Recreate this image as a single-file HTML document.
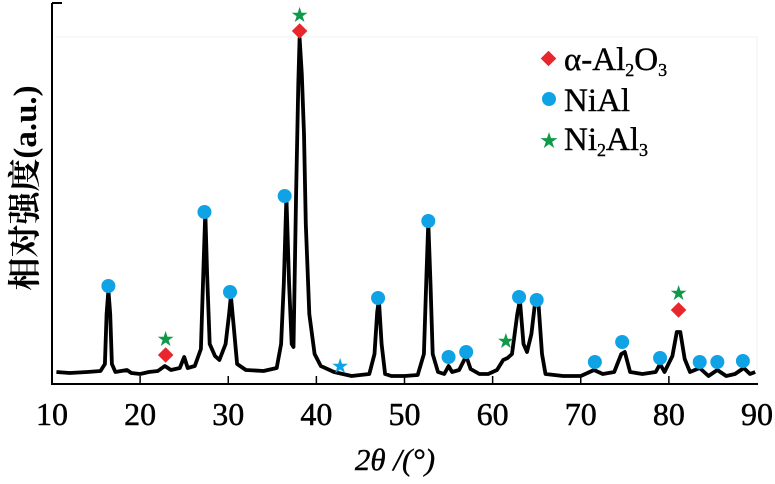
<!DOCTYPE html>
<html><head><meta charset="utf-8">
<style>
html,body{margin:0;padding:0;background:#fff;}
svg{display:block;font-family:"Liberation Serif","Noto Serif CJK SC",serif;}
</style></head>
<body>
<svg id="chart" width="775" height="484" viewBox="0 0 775 484" xmlns="http://www.w3.org/2000/svg">
  <g id="plot"></g>
  <line x1="55" y1="37" x2="757" y2="37" stroke="#f0f0f0" stroke-width="1"/>
  <line x1="757" y1="37" x2="757" y2="380" stroke="#f0f0f0" stroke-width="1"/>
  <line x1="52" y1="3" x2="52" y2="385" stroke="#000" stroke-width="2"/>
  <line x1="52" y1="3" x2="62" y2="3" stroke="#000" stroke-width="2"/>
  <line x1="51" y1="384" x2="758" y2="384" stroke="#000" stroke-width="2"/>
  <g id="xticks"></g>
  <text x="395" y="470" text-anchor="middle" font-size="31" font-style="italic" stroke="#000" stroke-width="0.4">2<tspan>θ</tspan> /(°)</text>
  <text transform="translate(36,188) rotate(-90)" text-anchor="middle" font-size="33" font-weight="bold" font-family="'Liberation Serif','Noto Serif CJK SC',serif">相对强度(a.u.)</text>
  <g>
    <rect x="543" y="53" width="11" height="11" fill="#e8262b" transform="rotate(45 548.5 58.5)"/>
    <text x="564" y="70" font-size="33" stroke="#000" stroke-width="0.4">α-Al<tspan font-size="18" dy="6">2</tspan><tspan dy="-6">O</tspan><tspan font-size="18" dy="6">3</tspan></text>
    <circle cx="549" cy="99" r="7" fill="#0fa3e6"/>
    <text x="564" y="111" font-size="33" stroke="#000" stroke-width="0.4">NiAl</text>
    <text x="549" y="147" font-size="18" fill="#0f9a4a" text-anchor="middle">★</text>
    <text x="564" y="150" font-size="33" stroke="#000" stroke-width="0.4">Ni<tspan font-size="18" dy="6">2</tspan><tspan dy="-6">Al</tspan><tspan font-size="18" dy="6">3</tspan></text>
  </g>
  <g id="markers"></g>
</svg>
<script>
const xTicks = [10,20,30,40,50,60,70,80,90];
const pattern2Theta = [10.5,12,14,15.5,16.0,16.2,16.4,16.6,16.8,17.2,18.5,19,20,21,22,22.8,23.5,24.5,25,25.4,26.2,26.9,27.2,27.4,27.6,27.9,28.5,29,29.7,30.1,30.3,30.6,31,32,34,35.5,36.0,36.3,36.6,36.9,37.2,37.4,37.7,37.95,38.1,38.35,38.6,38.8,39.2,39.8,40.5,42,43,44,45,46,46.6,46.9,47.1,47.4,47.8,48.5,50,51.5,52.2,52.5,52.7,52.95,53.2,53.8,54.5,55.0,55.4,56.2,57,57.5,58.5,59.5,60.5,61.2,61.7,62.2,62.8,63.1,63.5,63.9,64.4,64.8,65.2,65.6,66,68,70,71.5,72.5,73.8,74.6,75,75.6,77,78.5,79,79.5,80.4,80.9,81.3,81.8,82.4,83.5,84.5,85.5,86.5,87.5,88.5,89.2,89.8];
const patternIntensity = [12,11,12,13,20,70,94,70,20,12,14,11,10,12,13,18,14,16,27,16,18,35,120,172,110,40,28,24,40,70,88,60,20,14,13,16,40,100,187,100,40,37,190,300,346,310,250,160,70,30,18,12,10,8,9,10,30,72,84,40,10,8,8,9,30,110,162,100,30,12,10,18,12,14,28,15,10,10,14,24,26,30,70,84,40,32,50,80,80,30,10,8,8,14,10,12,30,32,12,10,12,20,12,28,52,52,25,12,16,8,14,8,10,16,10,12];
const al2o3Pos = [22.9,38.1,81.1];
const al2o3Int = [29,353,74];
const nialPos = [16.4,27.3,30.2,36.4,47.0,52.7,55.0,57.0,63.0,65.0,71.6,74.7,79.0,83.5,85.5,88.4];
const nialInt = [98,172,92,188,86,163,27,32,87,84,22,42,26,22,22,23];
const ni2al3Pos = [22.9,38.1,61.5,81.1];
const ni2al3Int = [45,369,43,91];
const otherStarPos = [42.7];
const otherStarInt = [18];

const NS = "http://www.w3.org/2000/svg";
const xs = v => 52 + (v - 10) * (705 / 80);
const ys = v => 384 - v;

const plot = document.getElementById('plot');
let d = '';
pattern2Theta.forEach((t, i) => { d += (i ? 'L' : 'M') + xs(t).toFixed(1) + ' ' + ys(patternIntensity[i]).toFixed(1); });
const path = document.createElementNS(NS, 'path');
path.setAttribute('d', d);
path.setAttribute('fill', 'none');
path.setAttribute('stroke', '#000');
path.setAttribute('stroke-width', '3.8');
path.setAttribute('stroke-linejoin', 'round');


plot.appendChild(path);

const xt = document.getElementById('xticks');
xTicks.forEach(t => {
  if (t > 10 && t < 90) {
    const l = document.createElementNS(NS, 'line');
    l.setAttribute('x1', xs(t)); l.setAttribute('x2', xs(t));
    l.setAttribute('y1', 384); l.setAttribute('y2', 376);
    l.setAttribute('stroke', '#000'); l.setAttribute('stroke-width', '1.5');
    
    
    xt.appendChild(l);
  }
  const tx = document.createElementNS(NS, 'text');
  tx.setAttribute('x', xs(t)); tx.setAttribute('y', 425);
  tx.setAttribute('text-anchor', 'middle'); tx.setAttribute('font-size', '32');
  tx.setAttribute('stroke', '#000'); tx.setAttribute('stroke-width', '0.5');
  tx.textContent = t;
  
  
  xt.appendChild(tx);
});

const mk = document.getElementById('markers');
al2o3Pos.forEach((p, i) => {
  const r = document.createElementNS(NS, 'rect');
  const cx = xs(p), cy = ys(al2o3Int[i]);
  r.setAttribute('x', cx - 5.5); r.setAttribute('y', cy - 5.5);
  r.setAttribute('width', 11); r.setAttribute('height', 11);
  r.setAttribute('fill', '#e8262b');
  r.setAttribute('transform', `rotate(45 ${cx} ${cy})`);
  
  
  mk.appendChild(r);
});
nialPos.forEach((p, i) => {
  const c = document.createElementNS(NS, 'circle');
  c.setAttribute('cx', xs(p)); c.setAttribute('cy', ys(nialInt[i]));
  c.setAttribute('r', 7); c.setAttribute('fill', '#0fa3e6');
  
  
  mk.appendChild(c);
});
function star(p, v, color, name) {
  const s = document.createElementNS(NS, 'text');
  s.setAttribute('x', xs(p)); s.setAttribute('y', ys(v) + 6);
  s.setAttribute('text-anchor', 'middle'); s.setAttribute('font-size', '17');
  s.setAttribute('fill', color);
  s.textContent = '★';
  
  
  mk.appendChild(s);
}
ni2al3Pos.forEach((p, i) => star(p, ni2al3Int[i], '#0f9a4a', 'ni2al3-marker'));
otherStarPos.forEach((p, i) => star(p, otherStarInt[i], '#0fa3e6', 'unlabeled-star-marker'));
</script>
</body></html>
